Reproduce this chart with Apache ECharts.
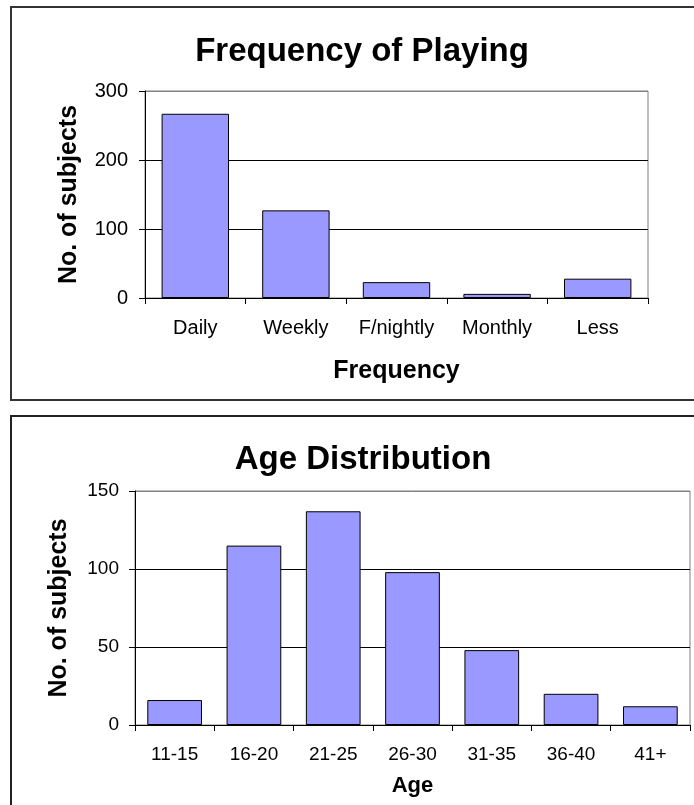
<!DOCTYPE html>
<html>
<head>
<meta charset="utf-8">
<script src="https://cdn.jsdelivr.net/npm/echarts@6/dist/echarts.min.js"></script>
<style>
  html, body { margin: 0; padding: 0; background: #ffffff; }
  #chart { width: 694px; height: 805px; }
</style>
</head>
<body>
<div id="chart"></div>
<script>
// Frequency of playing
var freqCategories = ['Daily', 'Weekly', 'F/nightly', 'Monthly', 'Less'];
var freqValues = [267, 127, 23, 6, 28];
var freqTicks = [0, 100, 200, 300];

// Age distribution
var ageCategories = ['11-15', '16-20', '21-25', '26-30', '31-35', '36-40', '41+'];
var ageValues = [16, 115, 137, 98, 48, 20, 12];
var ageTicks = [0, 50, 100, 150];

var FONT = "'Liberation Sans', Arial, Helvetica, sans-serif";
var BAR_FILL = '#9999FF';

function gridLineColors(ticks) {
  // Inner grid lines are black, the top edge of the plot area is grey
  return ticks.map(function (t, i) { return i === ticks.length - 1 ? '#808080' : '#000000'; });
}

function valueAxis(gridIndex, ticks, nameGap, labelSize, labelMargin) {
  return {
    type: 'value',
    gridIndex: gridIndex,
    min: ticks[0],
    max: ticks[ticks.length - 1],
    interval: ticks[1] - ticks[0],
    name: 'No. of subjects',
    nameLocation: 'middle',
    nameGap: nameGap,
    nameRotate: 90,
    nameTextStyle: { fontFamily: FONT, fontSize: 25, fontWeight: 'bold', color: '#000' },
    axisLine: { show: true, lineStyle: { color: '#000', width: 1 } },
    axisTick: { show: true, inside: false, length: 6, lineStyle: { color: '#000' } },
    axisLabel: { fontFamily: FONT, fontSize: labelSize, color: '#000', margin: labelMargin },
    splitLine: { show: true, lineStyle: { color: gridLineColors(ticks), width: 1 } }
  };
}

function categoryAxis(gridIndex, cats, name, nameGap, nameSize, labelSize) {
  return {
    type: 'category',
    gridIndex: gridIndex,
    data: cats,
    name: name,
    nameLocation: 'middle',
    nameGap: nameGap,
    nameTextStyle: { fontFamily: FONT, fontSize: nameSize, fontWeight: 'bold', color: '#000' },
    axisLine: { show: true, lineStyle: { color: '#000', width: 1 } },
    axisTick: { show: true, inside: false, length: 6, alignWithLabel: false, lineStyle: { color: '#000' } },
    axisLabel: { fontFamily: FONT, fontSize: labelSize, color: '#000', margin: 20, interval: 0 },
    splitLine: { show: false }
  };
}

var chart = echarts.init(document.getElementById('chart'), null, { renderer: 'canvas' });

chart.setOption({
  animation: false,
  backgroundColor: '#ffffff',
  title: [
    {
      text: 'Frequency of Playing',
      left: 357, top: 30, textAlign: 'center',
      textStyle: { fontFamily: FONT, fontSize: 33, fontWeight: 'bold', color: '#000' }
    },
    {
      text: 'Age Distribution',
      left: 358, top: 438, textAlign: 'center',
      textStyle: { fontFamily: FONT, fontSize: 33, fontWeight: 'bold', color: '#000' }
    }
  ],
  graphic: [
    {
      type: 'rect', z: 100, silent: true,
      shape: { x: 11, y: 7, width: 720, height: 393 },
      style: { fill: 'none', stroke: '#333333', lineWidth: 2 }
    },
    {
      type: 'rect', z: 100, silent: true,
      shape: { x: 11, y: 416, width: 720, height: 500 },
      style: { fill: 'none', stroke: '#222222', lineWidth: 2 }
    }
  ],
  grid: [
    { left: 145, top: 91, width: 503, height: 207, show: true, borderColor: '#808080', borderWidth: 1, backgroundColor: 'transparent' },
    { left: 135, top: 491, width: 555, height: 234, show: true, borderColor: '#808080', borderWidth: 1, backgroundColor: 'transparent' }
  ],
  xAxis: [
    categoryAxis(0, freqCategories, 'Frequency', 61, 25, 20),
    categoryAxis(1, ageCategories, 'Age', 50, 22, 19)
  ],
  yAxis: [
    valueAxis(0, freqTicks, 63, 20, 17),
    valueAxis(1, ageTicks, 63, 19, 16)
  ],
  series: [
    {
      type: 'bar', xAxisIndex: 0, yAxisIndex: 0,
      data: freqValues,
      barCategoryGap: '33%',
      itemStyle: { color: BAR_FILL, borderColor: '#000', borderWidth: 1 }
    },
    {
      type: 'bar', xAxisIndex: 1, yAxisIndex: 1,
      data: ageValues,
      barCategoryGap: '31%',
      itemStyle: { color: BAR_FILL, borderColor: '#000', borderWidth: 1 }
    }
  ]
});
</script>
</body>
</html>
